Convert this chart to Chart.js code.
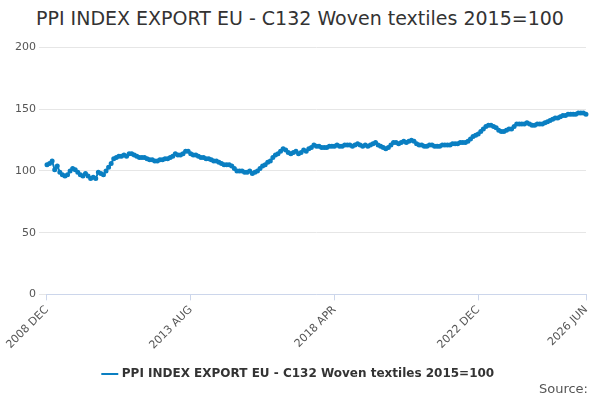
<!DOCTYPE html>
<html>
<head>
<meta charset="utf-8">
<script src="https://cdn.jsdelivr.net/npm/chart.js@4"></script>
<style>
  body { margin: 0; font-family: "DejaVu Sans", sans-serif; background: #fff; }
  #wrap { position: relative; width: 600px; height: 400px; }
  #title { position: absolute; left: 0; top: 7px; width: 600px; text-align: center; font-size: 19px; color: #333; }
  #source { position: absolute; right: 12px; bottom: 4px; font-size: 13px; color: #555; }
  canvas { position: absolute; left: 0; top: 38px; }
</style>
</head>
<body>
<div id="wrap">
  <div id="title">PPI INDEX EXPORT EU - C132 Woven textiles 2015=100</div>
  <canvas id="chart" width="600" height="352"></canvas>
  <div id="source">Source:</div>
</div>
<script>
const seriesName = 'PPI INDEX EXPORT EU - C132 Woven textiles 2015=100';
const monthNames = ['JAN','FEB','MAR','APR','MAY','JUN','JUL','AUG','SEP','OCT','NOV','DEC'];
const tickLabels = ['2008 DEC', '2013 AUG', '2018 APR', '2022 DEC', '2026 JUN'];

const values2008 = [105];
const values2009 = [106,108,101,104,99,97,96,97,100,102,101,99];
const values2010 = [97,96,98,96,94,95,94,99,98,97,100,103];
const values2011 = [106,110,111,112,112,113,112,114,114,113,112,111];
const values2012 = [111,111,110,109,109,108,108,109,109,110,110,111];
const values2013 = [112,114,113,113,114,116,116,114,113,113,112,111];
const values2014 = [111,110,110,109,108,108,107,106,105,105,105,104];
const values2015 = [102,100,100,100,99,99,100,98,99,100,102,104];
const values2016 = [105,107,108,111,113,114,116,118,117,115,114,115];
const values2017 = [116,114,115,117,116,118,119,121,120,120,119,119];
const values2018 = [119,120,120,120,121,120,120,121,121,121,120,121];
const values2019 = [122,121,120,121,120,121,122,123,121,120,119,118];
const values2020 = [119,121,123,123,122,123,124,123,124,125,124,122];
const values2021 = [121,121,120,120,121,121,120,120,120,121,121,121];
const values2022 = [121,122,122,122,123,123,123,124,126,128,129,130];
const values2023 = [132,134,136,137,137,136,135,133,132,132,133,134];
const values2024 = [134,136,138,138,138,138,139,138,137,137,138,138];
const values2025 = [138,139,140,141,142,143,143,144,145,145,146,146];
const values2026 = [146,146,147,147,147,146];

const values = [].concat(values2008, values2009, values2010, values2011, values2012,
  values2013, values2014, values2015, values2016, values2017, values2018, values2019,
  values2020, values2021, values2022, values2023, values2024, values2025, values2026);

// month labels starting 2008 DEC
const labels = values.map((v, i) => {
  const m = 11 + i;
  return (2008 + Math.floor(m / 12)) + ' ' + monthNames[m % 12];
});

new Chart(document.getElementById('chart'), {
  type: 'line',
  data: {
    labels: labels,
    datasets: [{
      label: seriesName,
      data: values,
      borderColor: '#0a7fc2',
      backgroundColor: '#0a7fc2',
      borderWidth: 2,
      pointRadius: 1.5,
      pointHoverRadius: 2,
      tension: 0
    }]
  },
  options: {
    responsive: false,
    animation: false,
    layout: { padding: { left: 12, right: 14, top: 8, bottom: 0 } },
    plugins: {
      legend: {
        position: 'bottom',
        labels: { usePointStyle: true, pointStyle: 'line', boxWidth: 20, color: '#333', padding: 13,
                  font: { family: 'DejaVu Sans', size: 12, weight: 'bold' } }
      },
      tooltip: { enabled: false }
    },
    scales: {
      x: {
        grid: { display: true, drawOnChartArea: false, color: '#ccd6eb', tickLength: 6 },
        border: { color: '#ccd6eb' },
        ticks: {
          autoSkip: false, maxRotation: 45, minRotation: 45, color: '#555',
          font: { family: 'DejaVu Sans', size: 11 },
          callback: function(v, i) {
            const l = labels[i];
            return tickLabels.includes(l) ? l : null;
          }
        }
      },
      y: {
        min: 0, max: 200,
        grid: { color: '#e6e6e6' },
        border: { display: false },
        ticks: { stepSize: 50, color: '#555', font: { family: 'DejaVu Sans', size: 11 } }
      }
    }
  }
});
</script>
</body>
</html>
